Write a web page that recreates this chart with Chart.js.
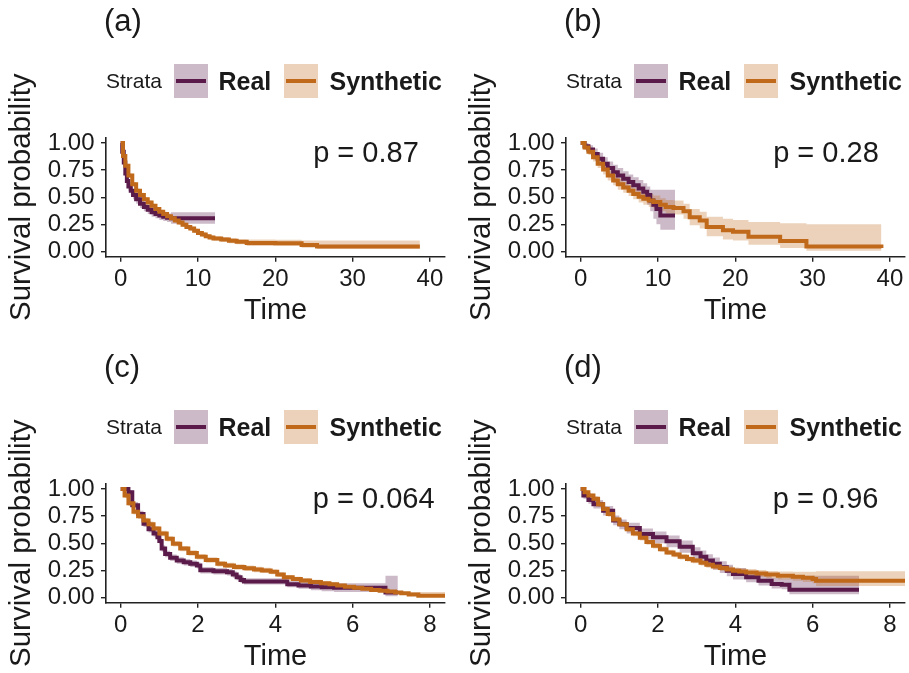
<!DOCTYPE html>
<html>
<head>
<meta charset="utf-8">
<script src="https://cdn.jsdelivr.net/npm/chart.js@4.4.1/dist/chart.umd.min.js"></script>
<style>
  body { margin: 0; background: #fff; width: 909px; height: 673px; overflow: hidden; position: relative;
         font-family: "Liberation Sans", Arial, Helvetica, sans-serif; color: #1a1a1a; }
  .panel { position: absolute; width: 455px; height: 327px; }
  .panel canvas { position: absolute; left: 0; top: 0; }
  .tag { position: absolute; left: 104px; top: 3px; font-size: 31px; line-height: 36px; }
  .legend > * { position: absolute; }
  .strata { left: 106px; top: 69px; font-size: 21px; line-height: 24px; }
  .key { top: 64px; width: 34px; height: 34px; }
  .key span { position: absolute; left: 2px; top: 15px; width: 30px; height: 4px; }
  .lab { top: 66px; font-size: 25px; line-height: 30px; font-weight: bold; }
</style>
</head>
<body>
<div id="panels"></div>
<script>
// tick labels
const yTickVals = [0, 0.25, 0.5, 0.75, 1];
const xTicksAB = [0, 10, 20, 30, 40];
const xTicksCD = [0, 2, 4, 6, 8];
const panelTags = ['(a)', '(b)', '(c)', '(d)'];
const pValues = ['p = 0.87', 'p = 0.28', 'p = 0.064', 'p = 0.96'];
const strataNames = ['Real', 'Synthetic'];

// (a)
const timeRealA  = [0, 0.2, 0.4, 0.6, 0.8, 1.0, 1.3, 1.6, 2.0, 2.5, 3.0, 3.5, 4.0, 4.5, 5.0, 5.5, 6.0, 6.5, 12.2];
const survRealA  = [1.0, 0.92, 0.82, 0.72, 0.65, 0.60, 0.56, 0.52, 0.48, 0.44, 0.41, 0.385, 0.36, 0.345, 0.33, 0.32, 0.31, 0.305, 0.305];
const lowerRealA = [1.0, 0.89, 0.78, 0.68, 0.61, 0.56, 0.52, 0.48, 0.44, 0.40, 0.37, 0.345, 0.32, 0.305, 0.29, 0.28, 0.27, 0.255, 0.255];
const upperRealA = [1.0, 0.95, 0.86, 0.76, 0.69, 0.64, 0.60, 0.56, 0.52, 0.48, 0.45, 0.425, 0.40, 0.385, 0.37, 0.36, 0.35, 0.36, 0.36];
const timeSynA  = [0, 0.3, 0.6, 1.0, 1.5, 2.0, 2.5, 3.0, 3.5, 4.0, 4.5, 5.0, 5.5, 6.0, 6.5, 7.0, 7.5, 8.0, 8.5, 9.0, 9.5, 10.0, 10.5, 11.0, 11.5, 12.0, 13.0, 14.0, 15.0, 16.3, 20.0, 23.4, 25.4, 38.7];
const survSynA  = [1.0, 0.88, 0.79, 0.70, 0.62, 0.56, 0.52, 0.48, 0.45, 0.42, 0.39, 0.365, 0.345, 0.325, 0.305, 0.285, 0.265, 0.245, 0.225, 0.21, 0.19, 0.17, 0.155, 0.14, 0.128, 0.118, 0.108, 0.098, 0.088, 0.076, 0.074, 0.058, 0.045, 0.045];
const lowerSynA = [1.0, 0.86, 0.77, 0.68, 0.60, 0.54, 0.50, 0.46, 0.43, 0.40, 0.37, 0.345, 0.325, 0.305, 0.285, 0.265, 0.245, 0.225, 0.205, 0.19, 0.17, 0.15, 0.135, 0.12, 0.108, 0.098, 0.085, 0.075, 0.065, 0.05, 0.048, 0.033, 0.022, 0.022];
const upperSynA = [1.0, 0.90, 0.81, 0.72, 0.64, 0.58, 0.54, 0.50, 0.47, 0.44, 0.41, 0.385, 0.365, 0.345, 0.325, 0.305, 0.285, 0.265, 0.245, 0.23, 0.21, 0.19, 0.175, 0.16, 0.148, 0.138, 0.132, 0.122, 0.112, 0.108, 0.106, 0.10, 0.10, 0.10];

// (b)
const timeRealB  = [0, 0.5, 1.0, 1.6, 2.2, 2.9, 3.5, 4.2, 4.8, 5.5, 6.2, 6.8, 7.5, 8.1, 8.6, 9.0, 9.4, 9.8, 10.3, 12.2];
const survRealB  = [1.0, 0.97, 0.94, 0.90, 0.855, 0.81, 0.77, 0.73, 0.70, 0.67, 0.64, 0.61, 0.58, 0.55, 0.52, 0.47, 0.43, 0.39, 0.33, 0.33];
const lowerRealB = [1.0, 0.94, 0.90, 0.85, 0.80, 0.75, 0.71, 0.66, 0.63, 0.60, 0.57, 0.535, 0.50, 0.47, 0.43, 0.37, 0.30, 0.25, 0.20, 0.20];
const upperRealB = [1.0, 1.0, 0.98, 0.95, 0.91, 0.87, 0.83, 0.80, 0.77, 0.74, 0.71, 0.685, 0.66, 0.63, 0.60, 0.57, 0.57, 0.57, 0.57, 0.57];
const timeSynB  = [0, 0.5, 1.0, 1.6, 2.2, 2.9, 3.5, 4.2, 4.8, 5.5, 6.2, 6.8, 7.5, 8.1, 8.8, 9.4, 10.3, 11.0, 12.0, 13.3, 14.1, 15.4, 16.3, 18.4, 19.7, 21.7, 25.8, 29.2, 38.5, 38.9];
const survSynB  = [1.0, 0.96, 0.92, 0.87, 0.81, 0.755, 0.70, 0.655, 0.62, 0.59, 0.56, 0.53, 0.505, 0.485, 0.47, 0.455, 0.43, 0.41, 0.40, 0.37, 0.315, 0.285, 0.225, 0.195, 0.18, 0.135, 0.095, 0.045, 0.045, 0.03];
const lowerSynB = [1.0, 0.94, 0.89, 0.83, 0.77, 0.71, 0.655, 0.61, 0.57, 0.54, 0.51, 0.48, 0.45, 0.43, 0.41, 0.395, 0.37, 0.35, 0.34, 0.30, 0.24, 0.21, 0.14, 0.11, 0.10, 0.06, 0.03, 0.005, 0.005, 0.0];
const upperSynB = [1.0, 0.98, 0.95, 0.91, 0.85, 0.80, 0.745, 0.70, 0.67, 0.64, 0.61, 0.58, 0.56, 0.54, 0.53, 0.515, 0.49, 0.475, 0.47, 0.44, 0.39, 0.365, 0.32, 0.30, 0.29, 0.27, 0.26, 0.25, 0.25, 0.25];

// (c)
const timeRealC  = [0, 0.1, 0.2, 0.3, 0.45, 0.59, 0.72, 0.85, 0.95, 1.0, 1.06, 1.15, 1.28, 1.45, 1.63, 1.8, 1.97, 2.06, 2.4, 2.75, 2.9, 3.0, 3.1, 3.19, 4.14, 4.31, 4.6, 4.92, 5.2, 5.52, 6.0, 6.85, 7.17];
const survRealC  = [1.0, 1.0, 0.97, 0.85, 0.77, 0.68, 0.63, 0.59, 0.555, 0.52, 0.45, 0.40, 0.365, 0.34, 0.325, 0.31, 0.295, 0.25, 0.24, 0.232, 0.21, 0.186, 0.16, 0.145, 0.145, 0.12, 0.11, 0.10, 0.092, 0.088, 0.088, 0.045, 0.045];
const lowerRealC = [1.0, 1.0, 0.95, 0.82, 0.73, 0.65, 0.60, 0.56, 0.525, 0.49, 0.42, 0.37, 0.335, 0.31, 0.295, 0.28, 0.265, 0.22, 0.21, 0.202, 0.18, 0.157, 0.132, 0.118, 0.118, 0.093, 0.08, 0.065, 0.055, 0.05, 0.05, 0.01, 0.01];
const upperRealC = [1.0, 1.0, 0.99, 0.88, 0.80, 0.71, 0.66, 0.62, 0.585, 0.55, 0.48, 0.43, 0.395, 0.37, 0.355, 0.34, 0.325, 0.28, 0.27, 0.262, 0.24, 0.215, 0.19, 0.175, 0.175, 0.15, 0.145, 0.14, 0.135, 0.13, 0.13, 0.2, 0.2];
const timeSynC  = [0, 0.1, 0.2, 0.33, 0.45, 0.59, 0.72, 0.85, 1.0, 1.19, 1.35, 1.54, 1.75, 1.97, 2.2, 2.5, 2.7, 2.93, 3.2, 3.45, 3.65, 3.88, 4.05, 4.22, 4.45, 4.66, 4.9, 5.18, 5.4, 5.6, 5.8, 6.04, 6.25, 6.48, 6.7, 6.9, 7.1, 7.26, 7.45, 7.7, 8.39];
const survSynC  = [1.0, 0.94, 0.87, 0.79, 0.75, 0.71, 0.675, 0.635, 0.59, 0.54, 0.495, 0.45, 0.41, 0.375, 0.345, 0.31, 0.295, 0.28, 0.268, 0.257, 0.248, 0.235, 0.21, 0.186, 0.17, 0.155, 0.142, 0.13, 0.12, 0.108, 0.098, 0.088, 0.078, 0.068, 0.06, 0.053, 0.045, 0.037, 0.025, 0.015, 0.015];
const lowerSynC = [1.0, 0.92, 0.845, 0.765, 0.725, 0.685, 0.65, 0.61, 0.565, 0.515, 0.47, 0.425, 0.385, 0.35, 0.32, 0.285, 0.27, 0.255, 0.243, 0.232, 0.224, 0.212, 0.188, 0.165, 0.15, 0.135, 0.123, 0.112, 0.102, 0.091, 0.082, 0.072, 0.063, 0.054, 0.046, 0.04, 0.032, 0.024, 0.013, 0.004, 0.004];
const upperSynC = [1.0, 0.96, 0.895, 0.815, 0.775, 0.735, 0.70, 0.66, 0.615, 0.565, 0.52, 0.475, 0.435, 0.40, 0.37, 0.335, 0.32, 0.305, 0.293, 0.282, 0.272, 0.258, 0.232, 0.207, 0.19, 0.175, 0.161, 0.148, 0.138, 0.125, 0.114, 0.104, 0.093, 0.082, 0.074, 0.066, 0.058, 0.05, 0.05, 0.05, 0.05];

// (d)
const timeRealD  = [0, 0.07, 0.2, 0.33, 0.58, 0.84, 1.0, 1.19, 1.53, 1.87, 2.22, 2.56, 2.9, 3.1, 3.25, 3.42, 3.6, 3.78, 3.94, 4.28, 4.6, 4.94, 5.2, 5.4, 7.2];
const survRealD  = [1.0, 0.94, 0.9, 0.86, 0.80, 0.71, 0.675, 0.64, 0.585, 0.554, 0.517, 0.468, 0.406, 0.375, 0.34, 0.31, 0.277, 0.245, 0.215, 0.185, 0.154, 0.123, 0.115, 0.07, 0.07];
const lowerRealD = [1.0, 0.91, 0.865, 0.82, 0.755, 0.665, 0.63, 0.59, 0.535, 0.5, 0.462, 0.412, 0.35, 0.318, 0.285, 0.255, 0.225, 0.195, 0.165, 0.138, 0.11, 0.082, 0.075, 0.028, 0.028];
const upperRealD = [1.0, 0.97, 0.935, 0.9, 0.845, 0.755, 0.72, 0.69, 0.635, 0.608, 0.572, 0.525, 0.462, 0.432, 0.397, 0.367, 0.333, 0.3, 0.27, 0.24, 0.21, 0.18, 0.175, 0.2, 0.2];
const timeSynD  = [0, 0.1, 0.2, 0.33, 0.45, 0.58, 0.7, 0.84, 1.0, 1.19, 1.35, 1.53, 1.7, 1.87, 2.05, 2.22, 2.4, 2.56, 2.75, 2.9, 3.1, 3.25, 3.42, 3.6, 3.78, 3.94, 4.1, 4.28, 4.55, 4.8, 5.1, 5.49, 5.75, 6.0, 6.09, 8.39];
const survSynD  = [1.0, 0.97, 0.94, 0.91, 0.86, 0.815, 0.77, 0.72, 0.675, 0.63, 0.59, 0.55, 0.51, 0.477, 0.445, 0.415, 0.395, 0.375, 0.355, 0.34, 0.32, 0.30, 0.285, 0.27, 0.258, 0.246, 0.238, 0.23, 0.22, 0.21, 0.2, 0.19, 0.18, 0.17, 0.154, 0.154];
const lowerSynD = [1.0, 0.955, 0.92, 0.885, 0.835, 0.79, 0.745, 0.695, 0.65, 0.605, 0.565, 0.525, 0.485, 0.452, 0.42, 0.39, 0.37, 0.35, 0.33, 0.314, 0.293, 0.273, 0.257, 0.242, 0.229, 0.216, 0.207, 0.198, 0.187, 0.176, 0.165, 0.153, 0.142, 0.13, 0.105, 0.105];
const upperSynD = [1.0, 0.985, 0.96, 0.935, 0.885, 0.84, 0.795, 0.745, 0.70, 0.655, 0.615, 0.575, 0.535, 0.502, 0.47, 0.44, 0.42, 0.40, 0.38, 0.366, 0.347, 0.327, 0.313, 0.298, 0.287, 0.276, 0.269, 0.262, 0.253, 0.244, 0.238, 0.235, 0.235, 0.235, 0.24, 0.24];

const realColor = '#5a1a4a';
const synColor = '#c0691a';
const realBand = 'rgba(90, 26, 74, 0.3)';
const synBand = 'rgba(192, 105, 26, 0.3)';
const inkColor = '#1a1a1a';
const fontFamily = '"Liberation Sans", Arial, Helvetica, sans-serif';

Chart.defaults.font.family = fontFamily;
Chart.defaults.color = inkColor;

const pvalPlugin = {
    id: 'pvalText',
    afterDatasetsDraw(chart, args, opts) {
        const ctx = chart.ctx;
        ctx.save();
        ctx.font = '29px ' + fontFamily;
        ctx.fillStyle = inkColor;
        ctx.textAlign = 'left';
        ctx.textBaseline = 'middle';
        ctx.fillText(opts.text, chart.scales.x.getPixelForValue(opts.x), chart.scales.y.getPixelForValue(opts.y));
        ctx.restore();
    }
};

function points(t, v) {
    return t.map((x, i) => ({ x: x, y: v[i] }));
}

function bandHi(t, v, order) {
    return { data: points(t, v), stepped: true, borderWidth: 0, pointRadius: 0, fill: false, order: order };
}

function bandLo(t, v, color, order) {
    return { data: points(t, v), stepped: true, borderWidth: 0, pointRadius: 0, fill: '-1', backgroundColor: color, order: order };
}

function survLine(t, v, color, order) {
    return { data: points(t, v), stepped: true, borderColor: color, borderWidth: 4, pointRadius: 0, fill: false, order: order };
}

const panels = [
    { left: 0,   top: 0,   xMin: -1.9,  xMax: 41.95, xTicks: xTicksAB, pvalX: 24.9,
      real: [timeRealA, survRealA, lowerRealA, upperRealA], syn: [timeSynA, survSynA, lowerSynA, upperSynA] },
    { left: 460, top: 0,   xMin: -1.9,  xMax: 41.95, xTicks: xTicksAB, pvalX: 24.9,
      real: [timeRealB, survRealB, lowerRealB, upperRealB], syn: [timeSynB, survSynB, lowerSynB, upperSynB] },
    { left: 0,   top: 346, xMin: -0.38, xMax: 8.39,  xTicks: xTicksCD, pvalX: 4.97,
      real: [timeRealC, survRealC, lowerRealC, upperRealC], syn: [timeSynC, survSynC, lowerSynC, upperSynC] },
    { left: 460, top: 346, xMin: -0.38, xMax: 8.39,  xTicks: xTicksCD, pvalX: 4.97,
      real: [timeRealD, survRealD, lowerRealD, upperRealD], syn: [timeSynD, survSynD, lowerSynD, upperSynD] }
];

function addLegend(div) {
    div.insertAdjacentHTML('beforeend',
        '<div class="legend">' +
        '<div class="strata">Strata</div>' +
        '<div class="key" style="left:174px;background:' + realBand + '"><span style="background:' + realColor + '"></span></div>' +
        '<div class="lab" style="left:218.5px">' + strataNames[0] + '</div>' +
        '<div class="key" style="left:284px;background:' + synBand + '"><span style="background:' + synColor + '"></span></div>' +
        '<div class="lab" style="left:329.5px">' + strataNames[1] + '</div>' +
        '</div>');
}

panels.forEach((p, i) => {
    const div = document.createElement('div');
    div.className = 'panel';
    div.style.left = p.left + 'px';
    div.style.top = p.top + 'px';
    const canvas = document.createElement('canvas');
    canvas.width = 455;
    canvas.height = 327;
    div.appendChild(canvas);
    div.insertAdjacentHTML('beforeend', '<div class="tag">' + panelTags[i] + '</div>');
    addLegend(div);
    document.getElementById('panels').appendChild(div);

    new Chart(canvas.getContext('2d'), {
        type: 'line',
        data: {
            datasets: [
                bandHi(p.real[0], p.real[3], 11),
                bandLo(p.real[0], p.real[2], realBand, 10),
                bandHi(p.syn[0], p.syn[3], 9),
                bandLo(p.syn[0], p.syn[2], synBand, 8),
                survLine(p.real[0], p.real[1], realColor, 2),
                survLine(p.syn[0], p.syn[1], synColor, 1)
            ]
        },
        plugins: [pvalPlugin],
        options: {
            responsive: false,
            animation: false,
            devicePixelRatio: 1,
            layout: { padding: { left: 0, top: 137.7, right: 10, bottom: 0 } },
            plugins: {
                legend: { display: false },
                tooltip: { enabled: false },
                pvalText: { text: pValues[i], x: p.pvalX, y: 0.895 }
            },
            scales: {
                x: {
                    type: 'linear',
                    min: p.xMin,
                    max: p.xMax,
                    afterBuildTicks: scale => { scale.ticks = p.xTicks.map(v => ({ value: v })); },
                    afterFit: scale => { scale.height = 327 - 256.7; },
                    ticks: { autoSkip: false, maxRotation: 0, padding: 3, color: inkColor, font: { size: 24 },
                             callback: v => String(v) },
                    grid: { drawOnChartArea: false, drawTicks: true, tickLength: 5, color: '#222', lineWidth: 1.4 },
                    border: { display: true, color: '#222', width: 1.6 },
                    title: { display: true, text: 'Time', color: inkColor, font: { size: 29, lineHeight: 1.1 },
                             padding: { top: 0, bottom: 0.5 } }
                },
                y: {
                    type: 'linear',
                    min: -0.05,
                    max: 1.05,
                    afterBuildTicks: scale => { scale.ticks = yTickVals.map(v => ({ value: v })); },
                    afterFit: scale => { scale.width = 106; },
                    ticks: { autoSkip: false, padding: 6.5, color: inkColor, font: { size: 24 },
                             callback: v => v.toFixed(2) },
                    grid: { drawOnChartArea: false, drawTicks: true, tickLength: 5, color: '#222', lineWidth: 1.4 },
                    border: { display: true, color: '#222', width: 1.6 },
                    title: { display: true, text: 'Survival probability', color: inkColor,
                             font: { size: 29.5, lineHeight: 1.2 }, padding: { top: 4, bottom: 0 } }
                }
            }
        }
    });
});
</script>
</body>
</html>
